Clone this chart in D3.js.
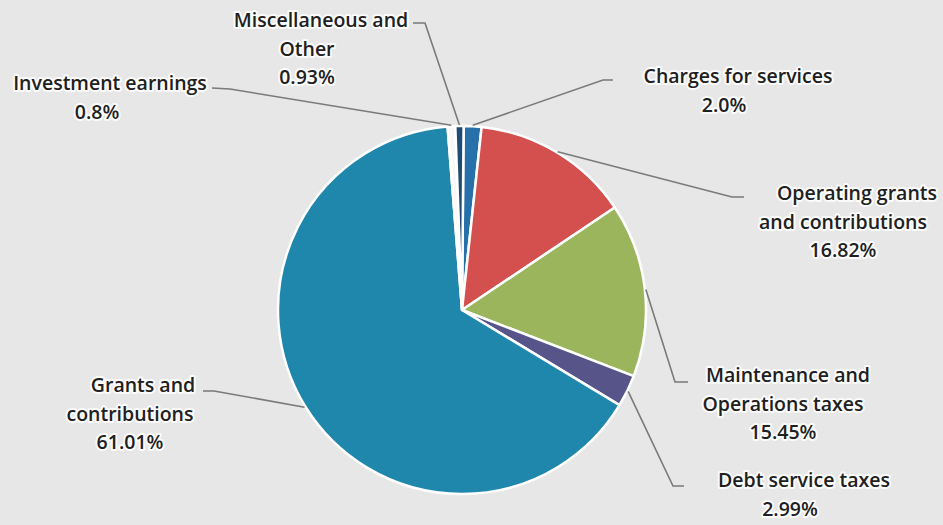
<!DOCTYPE html>
<html>
<head>
<meta charset="utf-8">
<script src="https://cdn.jsdelivr.net/npm/d3@7"></script>
<style>
  html, body { margin: 0; padding: 0; background: #e7e7e7; }
  svg { display: block; }
  .lbl { font-family: "Open Sans", sans-serif; font-weight: 600; font-size: 19.5px; fill: #202020;
         stroke: #fff; stroke-width: 4px; stroke-opacity: 0.85; stroke-linejoin: round; paint-order: stroke; }
</style>
</head>
<body>
<div id="chart"></div>
<script>
// ── Datos ────────────────────────────────────────────────────────
const categories = [
  "Charges for services", "Operating grants and contributions",
  "Maintenance and Operations taxes", "Debt service taxes",
  "Grants and contributions", "Investment earnings", "Miscellaneous and Other"
];
// share of the circle each slice takes in the picture (the printed labels differ a bit)
const sliceShares = [1.56, 13.9, 15.25, 2.8, 65.1, 0.67, 0.72];
const pctLabels = ["2.0%", "16.82%", "15.45%", "2.99%", "61.01%", "0.8%", "0.93%"];
const labelLines = [
  ["Charges for services"],
  ["Operating grants", "and contributions"],
  ["Maintenance and", "Operations taxes"],
  ["Debt service taxes"],
  ["Grants and", "contributions"],
  ["Investment earnings"],
  ["Miscellaneous and", "Other"]
];
const colors = ["#2770a9", "#d4504f", "#9ab55b", "#575489", "#1f87ab", "#f7f7f7", "#1e4a74"];

// ── Layout de etiquetas ──────────────────────────────────────────
const W = 943, H = 525;
const cx = 462, cy = 310, R = 184;
const LINE_H = 28.5;
const labelPos = [
  {x: 724, y: 83,  shift: 14, knee: [603, 80],  end: [613, 80]},
  {x: 843, y: 200, shift: 14, knee: [732, 197], end: [744, 197]},
  {x: 783, y: 382, shift: 5,  knee: [675, 382], end: [688, 382]},
  {x: 790, y: 487, shift: 14, knee: [673, 486], end: [684, 486]},
  {x: 130, y: 392, shift: 13, knee: [214, 391], end: [203, 391]},
  {x: 97,  y: 90,  shift: 13, knee: [230, 89],  end: [212, 88]},
  {x: 307, y: 27,  shift: 14, knee: [425, 23],  end: [413, 23]}
];

const svg = d3.select("#chart").append("svg")
  .attr("width", W).attr("height", H)
  .attr("viewBox", `0 0 ${W} ${H}`);

svg.append("rect").attr("width", W).attr("height", H).attr("fill", "#e7e7e7");

const pie = d3.pie().sort(null).value(d => d)
  .startAngle(0.5 * Math.PI / 180)
  .endAngle(2 * Math.PI + 0.5 * Math.PI / 180);
const arcs = pie(sliceShares);
const arc = d3.arc().innerRadius(0).outerRadius(R);

const g = svg.append("g").attr("transform", `translate(${cx},${cy})`);

g.selectAll("path")
  .data(arcs)
  .join("path")
  .attr("d", arc)
  .attr("fill", (d, i) => colors[i])
  .attr("stroke", "#ffffff")
  .attr("stroke-width", 2.5)
  .attr("stroke-linejoin", "round");

// ── Líneas guía ──────────────────────────────────────────────────
const line = d3.line();
arcs.forEach((a, i) => {
  const mid = (a.startAngle + a.endAngle) / 2;
  const start = [cx + (R + 1) * Math.sin(mid), cy - (R + 1) * Math.cos(mid)];
  const p = labelPos[i];
  svg.append("path")
    .attr("d", line([start, p.knee, p.end]))
    .attr("fill", "none")
    .attr("stroke", "#7a7a7a")
    .attr("stroke-width", 1.6);
});

// ── Etiquetas ────────────────────────────────────────────────────
labelLines.forEach((lines, i) => {
  const p = labelPos[i];
  const all = lines.concat([pctLabels[i]]);
  const t = svg.append("text").attr("class", "lbl").attr("text-anchor", "middle");
  all.forEach((s, k) => {
    t.append("tspan")
      .attr("x", p.x + (k === 0 ? p.shift : 0))
      .attr("y", p.y + k * LINE_H)
      .text(s);
  });
});
</script>
</body>
</html>
